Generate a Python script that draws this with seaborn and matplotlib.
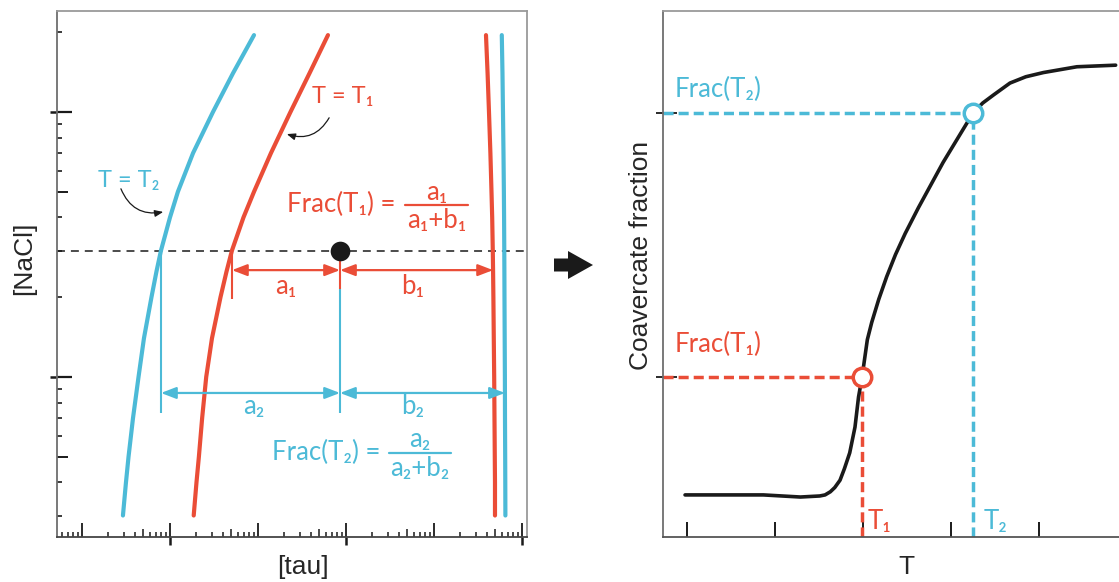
import numpy as np
import matplotlib
matplotlib.use("Agg")
import matplotlib.pyplot as plt
import matplotlib.ticker as mticker
from matplotlib.patches import FancyArrow
from matplotlib.transforms import IdentityTransform
from matplotlib.lines import Line2D
import seaborn as sns

RED = "#EA4D37"
BLUE = "#4CBAD7"
INK = "#1a1a1a"

# ---- left panel: phase boundaries at two temperatures ([NaCl] vs [tau], log-log)
nacl = [0.3, 0.4, 0.5, 0.7, 1, 1.4, 2, 2.5, 3, 4, 5, 7, 10, 14, 19.5]
tau_t2_dilute = [0.292, 0.316, 0.338, 0.380, 0.439, 0.506, 0.616, 0.702, 0.790, 1.00,
                 1.23, 1.83, 3.08, 5.20, 9.01]
tau_t1_dilute = [1.86, 2.00, 2.13, 2.32, 2.58, 3.00, 3.75, 4.39, 5.06, 6.84,
                 9.01, 14.05, 23.4, 38.5, 62.4]
tau_t1_dense = [4934, 4934, 4908, 4870, 4832, 4781, 4732, 4695, 4658, 4586,
                4503, 4375, 4217, 4065, 3899]
tau_t2_dense = [6478, 6460, 6443, 6410, 6393, 6360, 6326, 6310, 6293, 6260,
                6227, 6163, 6082, 6003, 5895]

# sample composition and lever-rule construction
sample_tau = 85.5
sample_nacl = 3.0
lever1_nacl = 2.53          # height of the a1/b1 arrows
lever2_nacl = 0.87          # height of the a2/b2 arrows
t1_dilute_at_sample = 5.06
t2_dilute_at_sample = 0.79
t1_dense_at_lever = 4690
t2_dense_at_lever = 6400
t1_guide_bottom = 1.97
sample_red_bottom = 2.15
guide_bottom = 0.731

# ---- right panel: coacervate fraction vs temperature
temp = [-0.02, 0.87, 1.29, 1.51, 1.57, 1.63, 1.68, 1.74, 1.79, 1.85, 1.91, 1.95, 1.99,
        2.05, 2.10, 2.18, 2.27, 2.37, 2.48, 2.63, 2.91, 3.25, 3.36, 3.48, 3.67,
        3.85, 4.05, 4.43, 4.87]
frac = [0.080, 0.080, 0.076, 0.078, 0.080, 0.086, 0.094, 0.108, 0.130, 0.160, 0.209,
        0.266, 0.304, 0.375, 0.408, 0.452, 0.495, 0.537, 0.577, 0.626, 0.712, 0.806,
        0.825, 0.840, 0.863, 0.875, 0.883, 0.894, 0.897]
T1, frac_T1 = 1.99, 0.304
T2, frac_T2 = 3.25, 0.806
temp_ticks = [0, 1, 2, 3, 4]

sns.set_theme(style="white")
plt.rcParams["font.family"] = ["Liberation Sans", "DejaVu Sans"]
ANN = ["Lato", "DejaVu Sans"]

W, H = 1119, 582
fig = plt.figure(figsize=(W / 100, H / 100), dpi=100)
ax1 = fig.add_axes([57 / W, 1 - 537 / H, 470 / W, 526 / H])
ax2 = fig.add_axes([662.5 / W, 1 - 537 / H, 464.6 / W, 526 / H])

# ================= left panel =================
ax1.set_xscale("log")
ax1.set_yscale("log")
ax1.set_xlim(10 ** -1.284, 10 ** 4.057)
ax1.set_ylim(10 ** -0.604, 10 ** 1.381)

ax1.axhline(sample_nacl, color="k", lw=1.1, dashes=(5.2, 3.9), zorder=1)

for xs, col in [(tau_t2_dilute, BLUE), (tau_t1_dilute, RED),
                (tau_t1_dense, RED), (tau_t2_dense, BLUE)]:
    sns.lineplot(x=xs, y=nacl, sort=False, estimator=None, color=col, lw=3.0,
                 ax=ax1, zorder=3)

# guide lines of the lever construction
ax1.vlines(t2_dilute_at_sample, guide_bottom, sample_nacl, color=BLUE, lw=1.5, zorder=2)
ax1.vlines(sample_tau, guide_bottom, sample_red_bottom, color=BLUE, lw=1.5, zorder=2)
ax1.vlines(sample_tau, sample_red_bottom, sample_nacl, color=RED, lw=1.5, zorder=2)
ax1.vlines(t1_dilute_at_sample, t1_guide_bottom, sample_nacl, color=RED, lw=1.5, zorder=2)

arrow_kw = dict(arrowstyle="<|-|>,head_length=0.65,head_width=0.25", lw=1.6,
                shrinkA=0, shrinkB=0, mutation_scale=14)
for x0, x1, yv, col in [(t1_dilute_at_sample, sample_tau, lever1_nacl, RED),
                        (sample_tau, t1_dense_at_lever, lever1_nacl, RED),
                        (t2_dilute_at_sample, sample_tau, lever2_nacl, BLUE),
                        (sample_tau, t2_dense_at_lever, lever2_nacl, BLUE)]:
    ax1.annotate("", xy=(x1, yv), xytext=(x0, yv),
                 arrowprops=dict(color=col, **arrow_kw), zorder=4)

sns.scatterplot(x=[sample_tau], y=[sample_nacl], s=200, color="k", linewidth=0,
                ax=ax1, zorder=6)

# labels
ta = ax1.transAxes
ax1.text(0.609, 0.825, "T = T₁", color=RED, fontsize=17, ha="center", va="baseline",
         family=ANN, transform=ta)
ax1.text(0.152, 0.665, "T = T₂", color=BLUE, fontsize=17, ha="center", va="baseline",
         family=ANN, transform=ta)
thin = dict(arrowstyle="-|>,head_length=0.5,head_width=0.2", color="k", lw=0.9,
            shrinkA=0, shrinkB=0, mutation_scale=10)
ax1.annotate("", xy=(0.489, 0.766), xytext=(0.579, 0.797), xycoords=ta,
             arrowprops=dict(connectionstyle="arc3,rad=-0.4", **thin))
ax1.annotate("", xy=(0.226, 0.618), xytext=(0.136, 0.662), xycoords=ta,
             arrowprops=dict(connectionstyle="arc3,rad=0.4", **thin))

for x, y, s, col in [(0.487, 0.462, "a₁", RED), (0.757, 0.462, "b₁", RED),
                     (0.419, 0.234, "a₂", BLUE), (0.757, 0.234, "b₂", BLUE)]:
    ax1.text(x, y, s, color=col, fontsize=18.5, ha="center", va="baseline",
             family=ANN, transform=ta)

# lever-rule formulas
for col, (xr, yb, bar_x, bar_y, num_y, den_y, sub) in [
        (RED, (0.719, 0.618, (0.7404, 0.8745), 0.632, 0.641, 0.588, "₁")),
        (BLUE, (0.689, 0.146, (0.706, 0.838), 0.1605, 0.171, 0.116, "₂"))]:
    ax1.text(xr, yb, f"Frac(T{sub}) =", color=col, fontsize=18.5, ha="right",
             va="baseline", family=ANN, transform=ta)
    xc = (bar_x[0] + bar_x[1]) / 2
    ax1.add_line(Line2D(bar_x, [bar_y, bar_y], color=col, lw=1.6, transform=ta))
    ax1.text(xc, num_y, f"a{sub}", color=col, fontsize=18.5, ha="center", va="baseline",
             family=ANN, transform=ta)
    ax1.text(xc, den_y, f"a{sub}+b{sub}", color=col, fontsize=18.5, ha="center",
             va="baseline", family=ANN, transform=ta)

# axes styling
for side, c in [("left", "#6e6e6e"), ("bottom", "#444444"), ("top", "#9a9a9a"),
                ("right", "#9a9a9a")]:
    ax1.spines[side].set_color(c)
    ax1.spines[side].set_linewidth(1.3)

ax1.xaxis.set_major_locator(mticker.FixedLocator([0.1, 1, 10, 100, 1000, 10000]))
ax1.xaxis.set_minor_locator(mticker.LogLocator(base=10, subs=[2, 3, 4, 6, 7, 8, 9], numticks=60))
ax1.yaxis.set_major_locator(mticker.FixedLocator([1, 10]))
ax1.yaxis.set_minor_locator(mticker.LogLocator(base=10, subs=[2, 3, 4, 6, 7, 8, 9], numticks=60))
ax1.tick_params(which="both", bottom=True, left=True, top=False, right=False,
                labelbottom=False, labelleft=False, color="k")
ax1.tick_params(axis="x", which="major", direction="in", length=10.3, width=1.3)
ax1.tick_params(axis="x", which="minor", direction="in", length=3.4, width=1.1)
ax1.tick_params(axis="y", which="major", direction="in", length=11.1, width=1.6)
ax1.tick_params(axis="y", which="minor", direction="in", length=3.6, width=1.2)

sx = ax1.secondary_xaxis("bottom")
sx.set_xticks([1, 100, 10000])
sx.xaxis.set_minor_locator(mticker.FixedLocator([0.5, 5, 50, 500, 5000]))
sx.tick_params(which="major", direction="out", length=5.8, width=1.8, color="k",
               labelbottom=False)
sx.tick_params(which="minor", direction="in", length=5.6, width=1.1, color="k")
sx.spines["bottom"].set_visible(False)

sy = ax1.secondary_yaxis("left")
sy.set_yticks([1, 10])
sy.yaxis.set_minor_locator(mticker.FixedLocator([0.5, 5]))
sy.tick_params(which="major", direction="out", length=5.3, width=1.8, color="k",
               labelleft=False)
sy.tick_params(which="minor", direction="in", length=7.7, width=1.4, color="k")
sy.spines["left"].set_visible(False)

ax1.set_xlabel("[tau]", fontsize=19, va="center")
ax1.xaxis.set_label_coords(0.524, -0.057)
ax1.set_ylabel("[NaCl]", fontsize=19, va="center", ha="center")
ax1.yaxis.set_label_coords(-0.070, 0.530)

# ================= right panel =================
ax2.set_xlim(-0.276, 5.0)
ax2.set_ylim(0, 1)

guide_dash = (0, (2.9, 1.45))
x_left = ax2.get_xlim()[0]
ax2.hlines(frac_T1, x_left, T1, color=RED, lw=2.5, linestyles=[guide_dash], zorder=2)
ax2.vlines(T1, 0, frac_T1, color=RED, lw=2.5, linestyles=[guide_dash], zorder=2)
ax2.hlines(frac_T2, x_left, T2, color=BLUE, lw=2.5, linestyles=[guide_dash], zorder=2)
ax2.vlines(T2, 0, frac_T2, color=BLUE, lw=2.5, linestyles=[guide_dash], zorder=2)

sns.lineplot(x=temp, y=frac, sort=False, estimator=None, color=INK, lw=2.6, ax=ax2,
             zorder=3)
sns.scatterplot(x=[T1], y=[frac_T1], s=177, facecolor="white", edgecolor=RED,
                linewidth=2.5, ax=ax2, zorder=5)
sns.scatterplot(x=[T2], y=[frac_T2], s=177, facecolor="white", edgecolor=BLUE,
                linewidth=2.5, ax=ax2, zorder=5)

ax2.text(-0.134, 0.837, "Frac(T₂)", color=BLUE, fontsize=18.5, ha="left", va="baseline",
         family=ANN)
ax2.text(-0.134, 0.351, "Frac(T₁)", color=RED, fontsize=18.5, ha="left", va="baseline",
         family=ANN)
ax2.text(2.056, 0.0152, "T₁", color=RED, fontsize=18.5, ha="left", va="baseline", family=ANN)
ax2.text(3.37, 0.0152, "T₂", color=BLUE, fontsize=18.5, ha="left", va="baseline", family=ANN)

for side, c in [("left", "#6e6e6e"), ("bottom", "#555555"), ("top", "#9a9a9a")]:
    ax2.spines[side].set_color(c)
    ax2.spines[side].set_linewidth(1.3)
ax2.spines["right"].set_visible(False)

ax2.set_xticks(temp_ticks)
ax2.set_yticks([frac_T1, frac_T2])
ax2.tick_params(which="both", bottom=True, left=True, top=False, right=False,
                labelbottom=False, labelleft=False, color="k")
ax2.tick_params(axis="x", which="major", direction="in", length=10.8, width=1.4)
ax2.tick_params(axis="y", which="major", direction="in", length=10.0, width=1.3)
sy2 = ax2.secondary_yaxis("left")
sy2.set_yticks([frac_T1, frac_T2])
sy2.tick_params(which="major", direction="out", length=5.0, width=1.3, color="k",
                labelleft=False)
sy2.spines["left"].set_visible(False)

ax2.set_xlabel("T", fontsize=19, va="center")
ax2.xaxis.set_label_coords(0.524, -0.057)
ax2.set_ylabel("Coavercate fraction", fontsize=19, va="center", ha="center")
ax2.yaxis.set_label_coords(-0.046, 0.536)

# block arrow between the panels (pixel coordinates)
fig.add_artist(FancyArrow(554, H - 265, 39, 0, width=13, head_width=28, head_length=25,
                          length_includes_head=True, color="k", lw=0,
                          transform=IdentityTransform()))

fig.savefig("out.png", dpi=100)
